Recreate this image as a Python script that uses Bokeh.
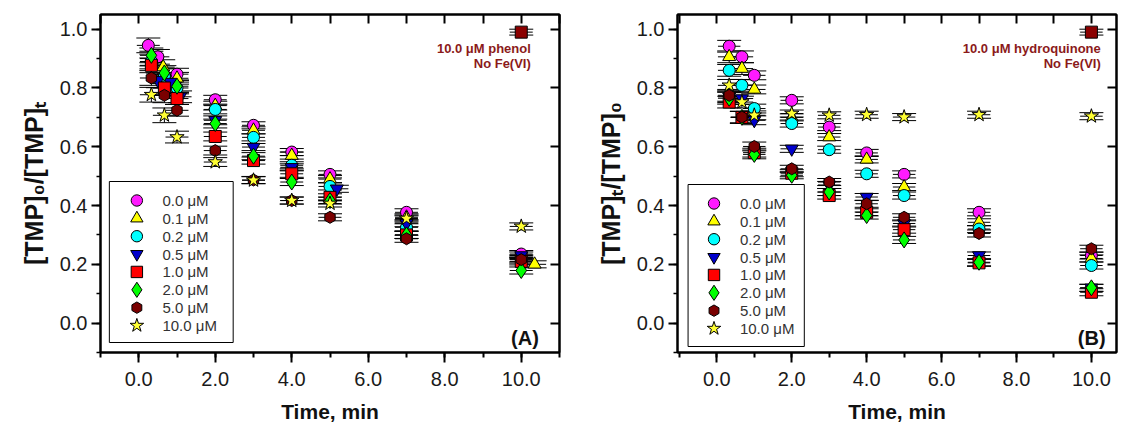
import numpy as np
from bokeh.plotting import figure
from bokeh.models import (ColumnDataSource, Whisker, TeeHead, LinearAxis, SingleIntervalTicker,
                          NumeralTickFormatter, Range1d, Label, CustomLabelingPolicy)
from bokeh.core.properties import value
from bokeh.layouts import row
from bokeh.embed import file_html
from bokeh.resources import INLINE

FONT = "Liberation Sans"

# ---------------- data ----------------
LABELS = ["0.0 μM", "0.1 μM", "0.2 μM", "0.5 μM", "1.0 μM", "2.0 μM", "5.0 μM", "10.0 μM"]
MARKERS = ["circle", "triangle", "circle", "inverted_triangle", "square", "diamond", "hex", "star"]
COLORS = ["#ff1aff", "#ffff00", "#00ffff", "#0000cc", "#ff0000", "#00ff00", "#7a0000", "#ffff33"]

# Panel A : phenol
A_TIME_00 = [0.25, 0.5, 1.0, 2, 3, 4, 5, 7, 10]
A_TIME_01 = [0.33, 0.64, 1.0, 2, 3, 4, 5, 7, 10.35]
A_TIME_05 = [0.5, 0.83, 1.08, 2, 3, 4, 5.18, 7, 10]
A_TIME = [0.33, 0.67, 1.0, 2, 3, 4, 5, 7, 10]
A_00 = [0.945, 0.906, 0.847, 0.760, 0.673, 0.582, 0.506, 0.377, 0.235]
A_01 = [0.900, 0.871, 0.833, 0.740, 0.656, 0.570, 0.490, 0.360, 0.200]
A_02 = [0.890, 0.840, 0.800, 0.727, 0.632, 0.537, 0.465, 0.326, 0.220]
A_05 = [0.826, 0.820, 0.770, 0.690, 0.599, 0.530, 0.457, 0.340, 0.230]
A_10 = [0.877, 0.800, 0.764, 0.635, 0.553, 0.508, 0.428, 0.300, 0.210]
A_20 = [0.911, 0.851, 0.806, 0.679, 0.568, 0.480, 0.417, 0.300, 0.179]
A_50 = [0.834, 0.775, 0.724, 0.587, 0.487, 0.417, 0.360, 0.287, 0.216]
A_100 = [0.777, 0.707, 0.633, 0.548, 0.486, 0.417, 0.407, 0.356, 0.329]
A_YERR = [0.025, 0.025, 0.02, 0.015, 0.012, 0.012, 0.012, 0.012, 0.012]

# Panel B : hydroquinone
B_TIME = [0.33, 0.67, 1.0, 2, 3, 4, 5, 7, 10]
B_00 = [0.942, 0.906, 0.843, 0.758, 0.667, 0.579, 0.506, 0.377, 0.230]
B_01 = [0.906, 0.866, 0.795, 0.700, 0.633, 0.557, 0.463, 0.343, 0.220]
B_02 = [0.860, 0.809, 0.730, 0.679, 0.590, 0.508, 0.434, 0.320, 0.196]
B_05 = [0.770, 0.764, 0.690, 0.593, 0.470, 0.429, 0.339, 0.230, 0.120]
B_10 = [0.752, 0.700, 0.580, 0.510, 0.434, 0.377, 0.318, 0.205, 0.105]
B_20 = [0.765, 0.700, 0.574, 0.503, 0.446, 0.366, 0.283, 0.207, 0.120]
B_50 = [0.775, 0.701, 0.601, 0.525, 0.480, 0.406, 0.360, 0.305, 0.253]
B_100 = [0.809, 0.752, 0.707, 0.713, 0.707, 0.709, 0.701, 0.709, 0.704]
B_YERR = [0.02, 0.02, 0.015, 0.012, 0.012, 0.012, 0.012, 0.012, 0.012]

# control: 10.0 uM compound, no Fe(VI)
CTRL_TIME = [10]
CTRL_A = [0.99]
CTRL_B = [0.99]
CTRL_YERR = [0.01]
CTRL_COLOR = "#8b0000"

X_ERR = 0.3

A_TIMES = [A_TIME_00, A_TIME_01, A_TIME, A_TIME_05, A_TIME, A_TIME, A_TIME, A_TIME]
A_VALUES = [A_00, A_01, A_02, A_05, A_10, A_20, A_50, A_100]
B_TIMES = [B_TIME] * 8
B_VALUES = [B_00, B_01, B_02, B_05, B_10, B_20, B_50, B_100]

SIZES = {"star": 15, "triangle": 13, "inverted_triangle": 13, "diamond": 16}

HIDE_LABELS = CustomLabelingPolicy(code="""
const all = [...indices]
for (const i of all) indices.unset(i)
return indices
""")


def add_series(p, t, v, yerr, marker, color, size):
    t = np.asarray(t, float)
    v = np.asarray(v, float)
    e = np.asarray(yerr, float)
    src = ColumnDataSource(dict(x=t, y=v, ylo=v - e, yhi=v + e, xlo=t - X_ERR, xhi=t + X_ERR))
    wy = Whisker(source=src, base="x", upper="yhi", lower="ylo", dimension="height",
                 line_color="black", line_width=1, level="underlay",
                 upper_head=TeeHead(size=24, line_color="black", line_width=1),
                 lower_head=TeeHead(size=24, line_color="black", line_width=1))
    wx = Whisker(source=src, base="y", upper="xhi", lower="xlo", dimension="width",
                 line_color="black", line_width=1, level="underlay",
                 upper_head=None, lower_head=None)
    p.add_layout(wy)
    p.add_layout(wx)
    kw = {}
    if marker == "hex":
        kw["angle"] = np.pi / 2
    return p.scatter("x", "y", source=src, marker=marker, size=size, fill_color=color,
                     line_color="black", line_width=1, **kw)


def make_panel(width, border_left, border_right, frame_w, xr, ylabel, times, values, yerr,
               ctrl, note, panel_letter, letter_x, leg_box, leg_marker_x, leg_text_x, leg_top_y):
    frame_h = 338
    p = figure(width=width, height=433, x_range=Range1d(*xr), y_range=Range1d(-0.1, 1.05),
               output_backend="svg", toolbar_location=None,
               min_border_left=border_left, min_border_right=border_right,
               min_border_top=14, min_border_bottom=81)
    p.extra_x_ranges = {"px": Range1d(0, frame_w)}
    p.extra_y_ranges = {"px": Range1d(0, frame_h)}
    p.xgrid.visible = False
    p.ygrid.visible = False
    p.outline_line_color = "black"
    p.outline_line_width = 2
    p.background_fill_color = "white"
    p.border_fill_color = "white"

    # bottom axis
    xa = p.xaxis[0]
    xa.ticker = SingleIntervalTicker(interval=2, num_minor_ticks=2)
    xa.formatter = NumeralTickFormatter(format="0.0")
    xa.axis_line_width = 2
    xa.major_tick_line_width = 2
    xa.minor_tick_line_width = 2
    xa.major_tick_out = 10
    xa.major_tick_in = 0
    xa.minor_tick_out = 5
    xa.minor_tick_in = 0
    xa.major_label_text_font = FONT
    xa.major_label_text_font_size = "20px"
    xa.major_label_text_color = "#1a1a1a"
    xa.major_label_standoff = 9
    xa.axis_label = "Time, min"
    xa.axis_label_text_font = FONT
    xa.axis_label_text_font_size = "21px"
    xa.axis_label_text_font_style = "bold"
    xa.axis_label_text_color = "#111111"
    xa.axis_label_standoff = 11

    # left axis
    ya = p.yaxis[0]
    ya.ticker = SingleIntervalTicker(interval=0.2, num_minor_ticks=2)
    ya.formatter = NumeralTickFormatter(format="0.0")
    ya.axis_line_width = 2
    ya.major_tick_line_width = 2
    ya.minor_tick_line_width = 1.5
    ya.major_tick_out = 9
    ya.major_tick_in = 0
    ya.minor_tick_out = 4
    ya.minor_tick_in = 0
    ya.major_label_text_font = FONT
    ya.major_label_text_font_size = "20px"
    ya.major_label_text_color = "#1a1a1a"
    ya.major_label_standoff = 4
    ya.axis_label = ylabel
    ya.axis_label_text_font = FONT
    ya.axis_label_text_font_size = "25px"
    ya.axis_label_text_font_style = "bold"
    ya.axis_label_text_color = "#111111"
    ya.axis_label_standoff = 9

    # top axis (ticks inside, no labels)
    top = LinearAxis(ticker=SingleIntervalTicker(interval=1, num_minor_ticks=0),
                     major_label_policy=HIDE_LABELS, major_label_standoff=0,
                     axis_line_width=2, major_tick_line_width=2,
                     major_tick_in=9, major_tick_out=0, minor_tick_in=0, minor_tick_out=0)
    p.add_layout(top, "above")
    # right axis (ticks inside, no labels)
    right = LinearAxis(ticker=SingleIntervalTicker(interval=0.2, num_minor_ticks=0),
                       major_label_policy=HIDE_LABELS, major_label_standoff=0,
                       axis_line_width=2, major_tick_line_width=2,
                       major_tick_in=9, major_tick_out=0, minor_tick_in=0, minor_tick_out=0)
    p.add_layout(right, "right")

    for t, v, m, c in zip(times, values, MARKERS, COLORS):
        add_series(p, t, v, yerr, m, c, SIZES.get(m, 12))
    add_series(p, CTRL_TIME, ctrl, CTRL_YERR, "square", CTRL_COLOR, 12)

    p.add_layout(Label(x=10.25, y=0.935, text=note, text_align="right", text_baseline="middle",
                       text_font=FONT, text_font_size="13px", text_font_style="bold",
                       text_color="#8b1a1a"))
    p.add_layout(Label(x=10.25, y=0.884, text="No Fe(VI)", text_align="right",
                       text_baseline="middle", text_font=FONT, text_font_size="13px",
                       text_font_style="bold", text_color="#8b1a1a"))
    p.add_layout(Label(x=letter_x, y=-0.05, text=panel_letter, text_align="right",
                       text_baseline="middle", text_font=FONT, text_font_size="20px",
                       text_font_style="bold", text_color="#111111"))

    # legend (drawn in frame-pixel coordinates)
    bl, br, bb, bt = leg_box
    p.quad(left=[bl], right=[br], bottom=[bb], top=[bt], fill_color="white",
           line_color="black", line_width=1, x_range_name="px", y_range_name="px")
    pitch = 17.86
    ys = [leg_top_y - i * pitch for i in range(len(LABELS))]
    sizes = [SIZES.get(m, 12) * 0.95 for m in MARKERS]
    angles = [np.pi / 2 if m == "hex" else 0 for m in MARKERS]
    lsrc = ColumnDataSource(dict(x=[leg_marker_x] * len(LABELS), y=ys, marker=MARKERS,
                                 color=COLORS, size=sizes, angle=angles,
                                 tx=[leg_text_x] * len(LABELS), label=LABELS))
    p.scatter("x", "y", source=lsrc, marker="marker", size="size", angle="angle",
              fill_color="color", line_color="black", line_width=1,
              x_range_name="px", y_range_name="px")
    p.text("tx", "y", text="label", source=lsrc, text_baseline="middle",
           text_font=value(FONT), text_font_size=value("15px"), text_color="#333333",
           x_range_name="px", y_range_name="px")
    return p


pA = make_panel(577, 100, 10, 467, (-1.0, 11.0), "[TMP]₀/[TMP]ₜ", A_TIMES, A_VALUES, A_YERR,
                CTRL_A, "10.0 μM phenol", "(A)", 10.46,
                (9, 135, 10, 171), 37, 63, 152)
pB = make_panel(557, 100, 0, 457, (-1.05, 10.67), "[TMP]ₜ/[TMP]₀", B_TIMES, B_VALUES, B_YERR,
                CTRL_B, "10.0 μM hydroquinone", "(B)", 10.38,
                (11, 132, 6, 168), 38, 65, 149)

layout = row(pA, pB)
open("out.html", "w").write(file_html(layout, INLINE))
